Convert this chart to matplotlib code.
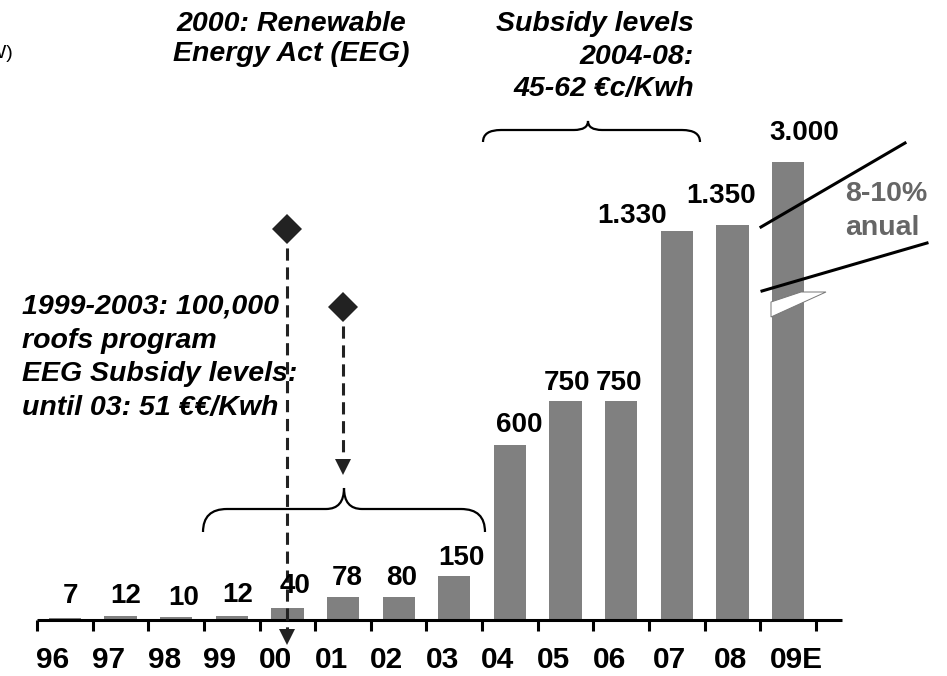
import numpy as np
import matplotlib.pyplot as plt
from matplotlib.path import Path
from matplotlib.patches import PathPatch, Polygon

years = ["96", "97", "98", "99", "00", "01", "02", "03",
         "04", "05", "06", "07", "08", "09E"]
capacity = [7, 12, 10, 12, 40, 78, 80, 150, 600, 750, 750, 1330, 1350, 3000]

# the 09E bar is drawn cut off at this height (axis break)
bar_cap = 1565

plt.rcParams['font.family'] = ['Liberation Sans', 'DejaVu Sans']

# pixel geometry of the picture
W, H = 947, 676
X0, DX = 37, 55.64     # first tick, pixels per year
Y0, DY = 620, 0.2925   # baseline, pixels per MW


def px(xp, yp):
    # picture pixel (top-left origin) -> data coords
    return (xp - X0) / DX - 0.5, (Y0 - yp) / DY


fig = plt.figure(figsize=(W / 100, H / 100), dpi=100)
ax = fig.add_axes([0, 0, 1, 1])
ax.set_xlim(px(0, 0)[0], px(W, 0)[0])
ax.set_ylim(px(0, H)[1], px(0, 0)[1])
ax.axis('off')

x = np.arange(len(years))
heights = np.minimum(capacity, bar_cap)
ax.bar(x, heights, width=0.58, color='#808080', zorder=2)

# value labels, nudged (pixels) like the original
nudge = [(6, 15), (5, 13), (8, 12), (6, 14), (8, 15), (4, 12), (3, 12), (7, 11),
         (9, 12), (1, 11), (-2, 11), (-45, 8), (-11, 22), (16, 22)]
for xi, h, v, (dx, dy) in zip(x, heights, capacity, nudge):
    ax.annotate(f"{v:,}".replace(",", "."), (xi, h), xytext=(dx, dy),
                textcoords='offset pixels', ha='center', va='baseline',
                fontsize=20, fontweight='bold', zorder=6)

# x axis line, ticks between bars, year labels
ax.plot([-0.5, px(842, 0)[0]], [0, 0], color='black', lw=2.2,
        solid_capstyle='butt', zorder=3)
ax.vlines(np.arange(len(years) + 1) - 0.5, px(0, 631)[1], 0, color='black',
          lw=2.2, zorder=3)
shift = [-12] * 11 + [-7, -2, 8]
for xi, lab, s in zip(x, years, shift):
    ax.text(xi + s / DX, px(0, 668)[1], lab, ha='center', va='baseline',
            fontsize=21.5, fontweight='bold')

# event markers with dashed arrows
ev = '#222222'
for xi, yd, ytip in [(4, 229, 645), (5, 307, 475)]:
    ax.plot([xi, xi], [px(0, yd)[1], px(0, ytip - 15)[1]], color=ev, lw=2.2,
            ls=(0, (4, 2.2)), zorder=4)
    ax.plot(xi, px(0, ytip - 8)[1], marker='v', ms=11.5, color=ev, mew=0, zorder=5)
    ax.plot(xi, px(0, yd)[1], marker='D', ms=15, color=ev, mew=0, zorder=5)


def brace(x0, x1, xm, yb, yf, ytip, r, rm):
    pts = [(x0, yb), (x0, yf), (x0 + r, yf), (xm - rm, yf), (xm, yf), (xm, ytip),
           (xm, yf), (xm + rm, yf), (x1 - r, yf), (x1, yf), (x1, yb)]
    codes = [Path.MOVETO, Path.CURVE3, Path.CURVE3, Path.LINETO, Path.CURVE3,
             Path.CURVE3, Path.CURVE3, Path.CURVE3, Path.LINETO, Path.CURVE3,
             Path.CURVE3]
    ax.add_patch(PathPatch(Path([px(*p) for p in pts], codes), fill=False,
                           lw=1.6, ec='black', zorder=4))


brace(203, 485, 344, 532, 509, 488, 24, 18)
brace(483, 700, 588, 142, 130, 121, 18, 14)

# break marks on the 09E bar
for (xa, ya), (xb, yb) in [((761, 227), (905, 143)), ((762, 291), (927, 243))]:
    pa, pb = px(xa, ya), px(xb, yb)
    ax.plot([pa[0], pb[0]], [pa[1], pb[1]], color='black', lw=2.2, zorder=5)
ax.add_patch(Polygon([px(771, 302), px(801, 292), px(826, 292), px(771, 317)],
                     closed=True, fc='white', ec='#777777', lw=0.7, zorder=4))

# annotations
bi = dict(fontsize=20.5, fontweight='bold', fontstyle='italic')
ax.text(*px(291, 11), "2000: Renewable\nEnergy Act (EEG)", ha='center', va='top',
        linespacing=1.2, multialignment='center', **bi)
ax.text(*px(694, 11), "Subsidy levels\n2004-08:\n45-62 €c/Kwh", ha='right',
        va='top', linespacing=1.33, multialignment='right', **bi)
ax.text(*px(22, 294), "1999-2003: 100,000\nroofs program\nEEG Subsidy levels:\n"
        "until 03: 51 €€/Kwh", ha='left', va='top', linespacing=1.38, **bi)
ax.text(*px(845, 181), "8-10%\nanual", ha='left', va='top', linespacing=1.42,
        fontsize=20.5, fontweight='bold', color='#666666')
# unit label, cut off at the left edge as in the original
ax.text(*px(13, 58), "(MW)", ha='right', va='baseline', fontsize=14)

fig.savefig('out.png', dpi=100)
